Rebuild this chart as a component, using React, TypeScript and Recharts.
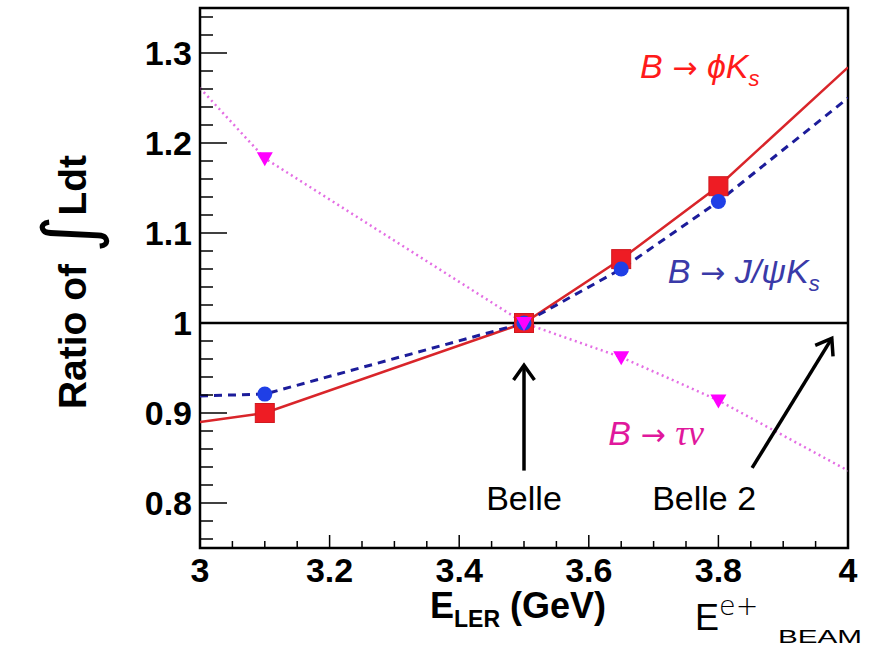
import React from "react";
import { LineChart, Line, XAxis, YAxis, ReferenceLine, ReferenceArea, ReferenceDot } from "recharts";

// ---- data ----
const energies = [3.0, 3.1, 3.5, 3.65, 3.8, 4.0];
const phiKs = [0.89, 0.9, 1.0, 1.071, 1.152, 1.284];
const jpsiKs = [0.919, 0.921, 1.0, 1.06, 1.135, 1.25];
const tauNu = [1.261, 1.183, 1.0, 0.962, 0.914, 0.836];
const measuredEnergies = [3.1, 3.5, 3.65, 3.8];

const xMajorTicks = [3, 3.2, 3.4, 3.6, 3.8, 4];
const xMinorTicks = [3.05, 3.1, 3.15, 3.25, 3.3, 3.35, 3.45, 3.5, 3.55, 3.65, 3.7, 3.75, 3.85, 3.9, 3.95];
const yMajorTicks = [0.8, 0.9, 1.0, 1.1, 1.2, 1.3];
const yMinorTicks = [0.76, 0.78, 0.82, 0.84, 0.86, 0.88, 0.92, 0.94, 0.96, 0.98, 1.02, 1.04, 1.06, 1.08, 1.12, 1.14, 1.16, 1.18, 1.22, 1.24, 1.26, 1.28, 1.32, 1.34];

const data = energies.map((e, i) => ({ e, phi: phiKs[i], jpsi: jpsiKs[i], tau: tauNu[i] }));

const FONT = "'Liberation Sans', Arial, Helvetica, sans-serif";
const ARROWFONT = "'DejaVu Sans', sans-serif";
const isIn = (arr: number[], v: number) => arr.some((a) => Math.abs(a - v) < 1e-6);

const XTickBottom = (p: any) => {
  const { x, y, payload } = p;
  const major = isIn(xMajorTicks, payload.value);
  return (
    <g>
      <line x1={x} y1={y} x2={x} y2={y - (major ? 13 : 7)} stroke="#000" strokeWidth={1.5} />
      {major && (
        <text x={x} y={y + 34} textAnchor="middle" fontFamily={FONT} fontWeight="bold" fontSize={34} fill="#000">
          {String(payload.value)}
        </text>
      )}
    </g>
  );
};

const XTickTop = (p: any) => {
  const { x, y, payload } = p;
  const major = isIn(xMajorTicks, payload.value);
  return <line x1={x} y1={y} x2={x} y2={y + (major ? 13 : 7)} stroke="#000" strokeWidth={1.5} />;
};

const YTick = (p: any) => {
  const { x, y, payload } = p;
  const major = isIn(yMajorTicks, payload.value);
  return (
    <g>
      <line x1={x} y1={y} x2={x + (major ? 27 : 13)} y2={y} stroke="#000" strokeWidth={1.5} />
      {major && (
        <text x={x - 8} y={y + 12} textAnchor="end" fontFamily={FONT} fontWeight="bold" fontSize={34} fill="#000">
          {String(payload.value)}
        </text>
      )}
    </g>
  );
};

const SquareDot = (p: any) => {
  const { cx, cy, payload } = p;
  if (!isIn(measuredEnergies, payload.e)) return <g />;
  return <rect x={cx - 9.5} y={cy - 9.5} width={19} height={19} fill="#ee1c24" stroke="#d01a20" strokeWidth={1} />;
};
const CircleDot = (p: any) => {
  const { cx, cy, payload } = p;
  if (!isIn(measuredEnergies, payload.e)) return <g />;
  return <circle cx={cx} cy={cy} r={7.5} fill="#1f3fe6" />;
};
const TriDot = (p: any) => {
  const { cx, cy, payload } = p;
  if (!isIn(measuredEnergies, payload.e)) return <g />;
  return <path d={`M${cx - 8},${cy - 6} L${cx + 8},${cy - 6} L${cx},${cy + 8} Z`} fill="#ff00ff" />;
};

const Arrow = (p: any) => {
  const { x1, y1, x2, y2 } = p;
  const ang = Math.atan2(y2 - y1, x2 - x1);
  const L = 18;
  const W = 0.62;
  const ax = x2 - L * Math.cos(ang - W);
  const ay = y2 - L * Math.sin(ang - W);
  const bx = x2 - L * Math.cos(ang + W);
  const by = y2 - L * Math.sin(ang + W);
  return (
    <g>
      <line x1={x1} y1={y1} x2={x2} y2={y2} stroke="#000" strokeWidth={3.5} />
      <polyline points={`${ax},${ay} ${x2},${y2} ${bx},${by}`} fill="none" stroke="#000" strokeWidth={3.5} strokeLinejoin="miter" />
    </g>
  );
};

const textShape = (content: (cx: number, cy: number) => React.ReactElement) => (p: any) => content(p.cx, p.cy);

const XTitle = (p: any) => {
  const vb = p.viewBox || { x: 200, y: 548, width: 648, height: 99 };
  const bx = vb.x;
  const by = vb.y;
  return (
    <g>
      <text x={bx + 230} y={by + 70} fontFamily={FONT} fontWeight="bold" fontSize={36} fill="#000">
        E
        <tspan fontSize={23} dy={9}>LER</tspan>
        <tspan dy={-9}> (GeV)</tspan>
      </text>
      <text x={bx + 495} y={by + 82} fontFamily={FONT} fontSize={36} fill="#000">
        E
        <tspan fontSize={27} dy={-15} fontFamily={ARROWFONT} fontWeight={300}>e+</tspan>
      </text>
      <text x={bx + 578} y={by + 95} fontFamily={FONT} fontSize={18} textLength={84} lengthAdjust="spacingAndGlyphs" fill="#000">
        BEAM
      </text>
    </g>
  );
};

const YTitle = () => {
  const cx = 86;
  const cy = 282;
  return (
    <text x={cx} y={cy} transform={`rotate(-90, ${cx}, ${cy})`} textAnchor="middle" fontFamily={FONT} fontWeight="bold" fontSize={39} fill="#000">
      {"Ratio of "}
      <tspan fontSize={72} fontWeight="normal" fontFamily={ARROWFONT} dy={8}>∫</tspan>
      <tspan dy={-8}>Ldt</tspan>
    </text>
  );
};

const Arr = () => (
  <tspan fontFamily={ARROWFONT} fontStyle="normal" fontSize={30}>{" → "}</tspan>
);

export default function App() {
  return (
    <div style={{ position: "absolute", left: 0, top: 0, width: 875, height: 647, background: "#fff" }}>
      <LineChart width={875} height={647} data={data} margin={{ top: 8, right: 27, bottom: 0, left: 0 }} style={{ fontFamily: FONT }}>
        <XAxis
          xAxisId="b"
          dataKey="e"
          type="number"
          domain={[3, 4]}
          ticks={[...xMajorTicks, ...xMinorTicks].sort((a, b) => a - b)}
          interval={0}
          tick={<XTickBottom />}
          tickSize={0}
          tickMargin={0}
          axisLine={false}
          tickLine={false}
          height={99}
          allowDataOverflow
          label={<XTitle />}
        />
        <XAxis
          xAxisId="t"
          orientation="top"
          dataKey="e"
          type="number"
          domain={[3, 4]}
          ticks={[...xMajorTicks, ...xMinorTicks].sort((a, b) => a - b)}
          interval={0}
          tick={<XTickTop />}
          tickSize={0}
          tickMargin={0}
          axisLine={false}
          tickLine={false}
          height={0}
          allowDataOverflow
        />
        <YAxis
          type="number"
          domain={[0.75, 1.35]}
          ticks={[...yMajorTicks, ...yMinorTicks].sort((a, b) => a - b)}
          interval={0}
          tick={<YTick />}
          tickSize={0}
          tickMargin={0}
          axisLine={false}
          tickLine={false}
          width={200}
          allowDataOverflow
          label={<YTitle />}
        />
        <ReferenceArea xAxisId="b" x1={3} x2={4} y1={0.75} y2={1.35} fill="none" stroke="#000" strokeWidth={2.5} ifOverflow="visible" />
        <ReferenceLine xAxisId="b" y={1} stroke="#000" strokeWidth={2.5} />
        <Line xAxisId="b" dataKey="phi" type="linear" stroke="#d9252a" strokeWidth={2.5} dot={<SquareDot />} isAnimationActive={false} />
        <Line xAxisId="b" dataKey="jpsi" type="linear" stroke="#1c1c9a" strokeWidth={3} strokeDasharray="8 6" dot={<CircleDot />} isAnimationActive={false} />
        <Line xAxisId="b" dataKey="tau" type="linear" stroke="#e46ee4" strokeWidth={2.5} strokeDasharray="2 3.5" dot={<TriDot />} isAnimationActive={false} />
        <ReferenceLine xAxisId="b" segment={[{ x: 3.5, y: 0.836 }, { x: 3.5, y: 0.953 }]} shape={Arrow} ifOverflow="visible" />
        <ReferenceLine xAxisId="b" segment={[{ x: 3.852, y: 0.839 }, { x: 3.975, y: 0.983 }]} shape={Arrow} ifOverflow="visible" />
        <ReferenceDot
          xAxisId="b"
          x={3.5}
          y={0.792}
          ifOverflow="visible"
          shape={textShape((cx, cy) => (
            <text x={cx} y={cy} textAnchor="middle" fontFamily={FONT} fontSize={34} fill="#000">Belle</text>
          ))}
        />
        <ReferenceDot
          xAxisId="b"
          x={3.778}
          y={0.792}
          ifOverflow="visible"
          shape={textShape((cx, cy) => (
            <text x={cx} y={cy} textAnchor="middle" fontFamily={FONT} fontSize={34} fill="#000">Belle 2</text>
          ))}
        />
        <ReferenceDot
          xAxisId="b"
          x={3.679}
          y={1.272}
          ifOverflow="visible"
          shape={textShape((cx, cy) => (
            <text x={cx} y={cy} fontFamily={FONT} fontSize={34} fontStyle="italic" fill="#ff1a1a">
              B<Arr />
              <tspan>ϕ</tspan>K<tspan fontSize={22} dy={8}>s</tspan>
            </text>
          ))}
        />
        <ReferenceDot
          xAxisId="b"
          x={3.722}
          y={1.044}
          ifOverflow="visible"
          shape={textShape((cx, cy) => (
            <text x={cx} y={cy} fontFamily={FONT} fontSize={34} fontStyle="italic" fill="#3a3aa8">
              B<Arr />
              {"J/"}
              <tspan>ψ</tspan>K<tspan fontSize={22} dy={8}>s</tspan>
            </text>
          ))}
        />
        <ReferenceDot
          xAxisId="b"
          x={3.63}
          y={0.864}
          ifOverflow="visible"
          shape={textShape((cx, cy) => (
            <text x={cx} y={cy} fontFamily={FONT} fontSize={34} fontStyle="italic" fill="#e0189c">
              B<Arr />
              <tspan fontFamily="'Liberation Serif', 'DejaVu Serif', serif" fontSize={36}>τν</tspan>
            </text>
          ))}
        />
      </LineChart>
    </div>
  );
}
